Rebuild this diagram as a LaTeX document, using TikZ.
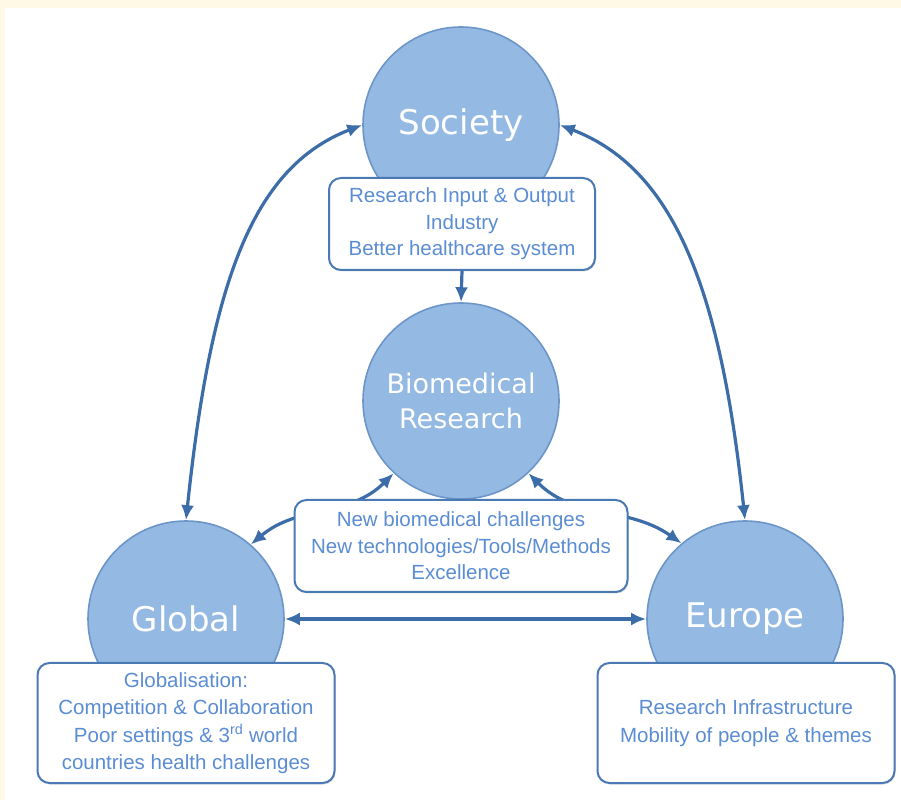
\documentclass[tikz,border=0pt]{standalone}
\usepackage{fontspec}
\setmainfont{Liberation Sans}
\newfontfamily\hubfont{DejaVu Sans}
\usetikzlibrary{arrows.meta,shadows}
\definecolor{cream}{HTML}{FFF9E6}
\definecolor{hubfill}{HTML}{94B9E2}
\definecolor{hubedge}{HTML}{6C95C9}
\definecolor{boxedge}{HTML}{4A79B4}
\definecolor{boxtext}{HTML}{5B8DD3}
\definecolor{linkcol}{HTML}{3D6DA8}

\begin{document}
\begin{tikzpicture}[x=1pt,y=1pt,
  hub/.style={circle,minimum size=196pt,inner sep=0pt,fill=hubfill,draw=hubedge,line width=1.6pt,
    text=white,align=center,font=\hubfont\fontsize{34}{38}\selectfont},
  note/.style={rectangle,rounded corners=12pt,fill=white,draw=boxedge,line width=2pt,
    text=boxtext,align=center,font=\fontsize{20.5}{26.5}\selectfont,
    drop shadow={opacity=0.25,shadow xshift=1pt,shadow yshift=-1.5pt}},
  link/.style={{Latex[length=15pt,width=13pt]}-{Latex[length=15pt,width=13pt]},draw=linkcol,line width=3.2pt}]

% background
\fill[cream] (0,0) rectangle (901,800);
\fill[white] (5,0) rectangle (901,792);

% circles
\node[hub] (soc) at (461,675) {Society};
\node[hub,font=\hubfont\fontsize{27}{35}\selectfont] (bio) at (461,399) {Biomedical\\Research};
\node[hub] (glob) at (186,181) {Global};
\node[hub] (eur) at (745,181) {Europe};

% links between the circles
\draw[link] (glob.north) to[out=84,in=201,out looseness=1.4,in looseness=0.7] (soc.west);
\draw[link] (soc.east) to[out=-21,in=96,out looseness=0.7,in looseness=1.4] (eur.north);
\draw[link] (glob.east) -- (eur.west);
\draw[link] (glob.49) to[out=40,in=225] (bio.227);
\draw[link] (bio.313) to[out=-45,in=145] (eur.130);

% text boxes
\node[note,minimum width=266pt,minimum height=92pt] (socbox) at (462,576)
  {Research Input \& Output\\Industry\\Better healthcare system};
\node[note,minimum width=333pt,minimum height=92pt] (biobox) at (461,254)
  {New biomedical challenges\\New technologies/Tools/Methods\\Excellence};
\node[note,minimum width=297pt,minimum height=120pt,font=\fontsize{20.5}{27.5}\selectfont] (globbox) at (186,77)
  {Globalisation:\\Competition \& Collaboration\\Poor settings \& 3\textsuperscript{rd} world\\countries health challenges};
\node[note,minimum width=297pt,minimum height=120pt,font=\fontsize{20.5}{28}\selectfont] (eurbox) at (746,77)
  {Research Infrastructure\\Mobility of people \& themes};

\draw[-{Latex[length=15pt,width=13pt]},draw=linkcol,line width=3.2pt] (socbox.south) -- (bio.north);
\end{tikzpicture}
\end{document}
